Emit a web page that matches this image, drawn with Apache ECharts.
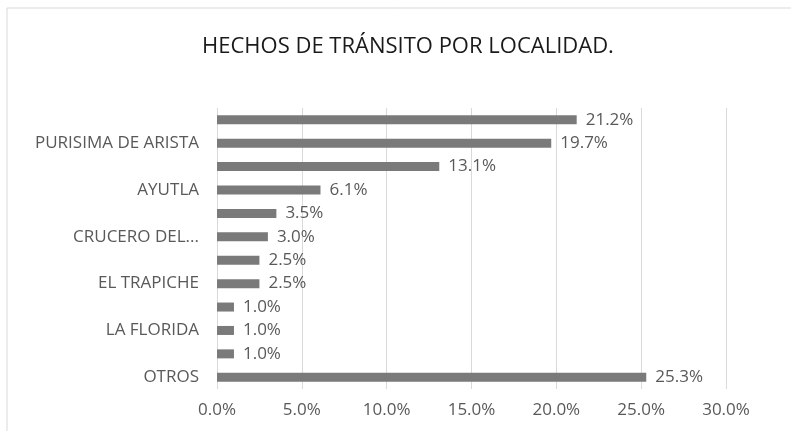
<!DOCTYPE html>
<html>
<head>
<meta charset="utf-8">
<script src="https://cdn.jsdelivr.net/npm/echarts@6/dist/echarts.min.js"></script>
<style>
  html, body { margin: 0; padding: 0; background: #fff; }
  #chart { width: 791px; height: 431px; }
</style>
</head>
<body>
<div id="chart"></div>
<script>
// categories listed bottom to top (ECharts puts the first category at the bottom)
// NOTE: the source chart only shows every other label; the "LOCALIDAD A..K" names
// are placeholders for the unlabelled bars (they are hidden by interval: 1 anyway)
const localidades = [
  "OTROS", "LOCALIDAD K", "LA FLORIDA", "LOCALIDAD I",
  "EL TRAPICHE", "LOCALIDAD G", "CRUCERO DEL...", "LOCALIDAD E",
  "AYUTLA", "LOCALIDAD C", "PURISIMA DE ARISTA", "LOCALIDAD A"
];
const porcentajes = [25.3, 1.0, 1.0, 1.0, 2.5, 2.5, 3.0, 3.5, 6.1, 13.1, 19.7, 21.2];
const ticksX = [0, 5, 10, 15, 20, 25, 30];

const font = "'Open Sans', 'Noto Sans', sans-serif";
const chart = echarts.init(document.getElementById("chart"), null, { renderer: "canvas" });

chart.setOption({
  animation: false,
  title: {
    text: "HECHOS DE TRÁNSITO POR LOCALIDAD.",
    left: 197,
    top: 31,
    textStyle: { fontFamily: font, fontSize: 22, fontWeight: "normal", color: "#1a1a1a" }
  },
  graphic: [{
    type: "polyline",
    shape: { points: [[7, 440], [7, 8], [800, 8]] },
    style: { stroke: "#d9d9d9", lineWidth: 1, fill: null }
  }],
  grid: { left: 217, right: 65, top: 108, bottom: 42 },
  xAxis: {
    type: "value",
    min: ticksX[0],
    max: ticksX[ticksX.length - 1],
    interval: 5,
    axisLine: { show: false },
    axisTick: { show: false },
    splitLine: { lineStyle: { color: "#d9d9d9", width: 1 } },
    axisLabel: {
      formatter: v => v.toFixed(1) + "%",
      fontFamily: font, fontSize: 17, color: "#595959", margin: 13
    }
  },
  yAxis: {
    type: "category",
    data: localidades,
    axisLine: { show: false },
    axisTick: { show: false },
    axisLabel: {
      interval: 1,
      fontFamily: font, fontSize: 17, color: "#595959", margin: 18
    }
  },
  series: [{
    type: "bar",
    data: porcentajes,
    barWidth: 9,
    itemStyle: { color: "#7a7a7a" },
    label: {
      show: true,
      position: "right",
      distance: 9,
      formatter: p => p.value.toFixed(1) + "%",
      fontFamily: font, fontSize: 17, color: "#595959"
    }
  }]
});
</script>
</body>
</html>
